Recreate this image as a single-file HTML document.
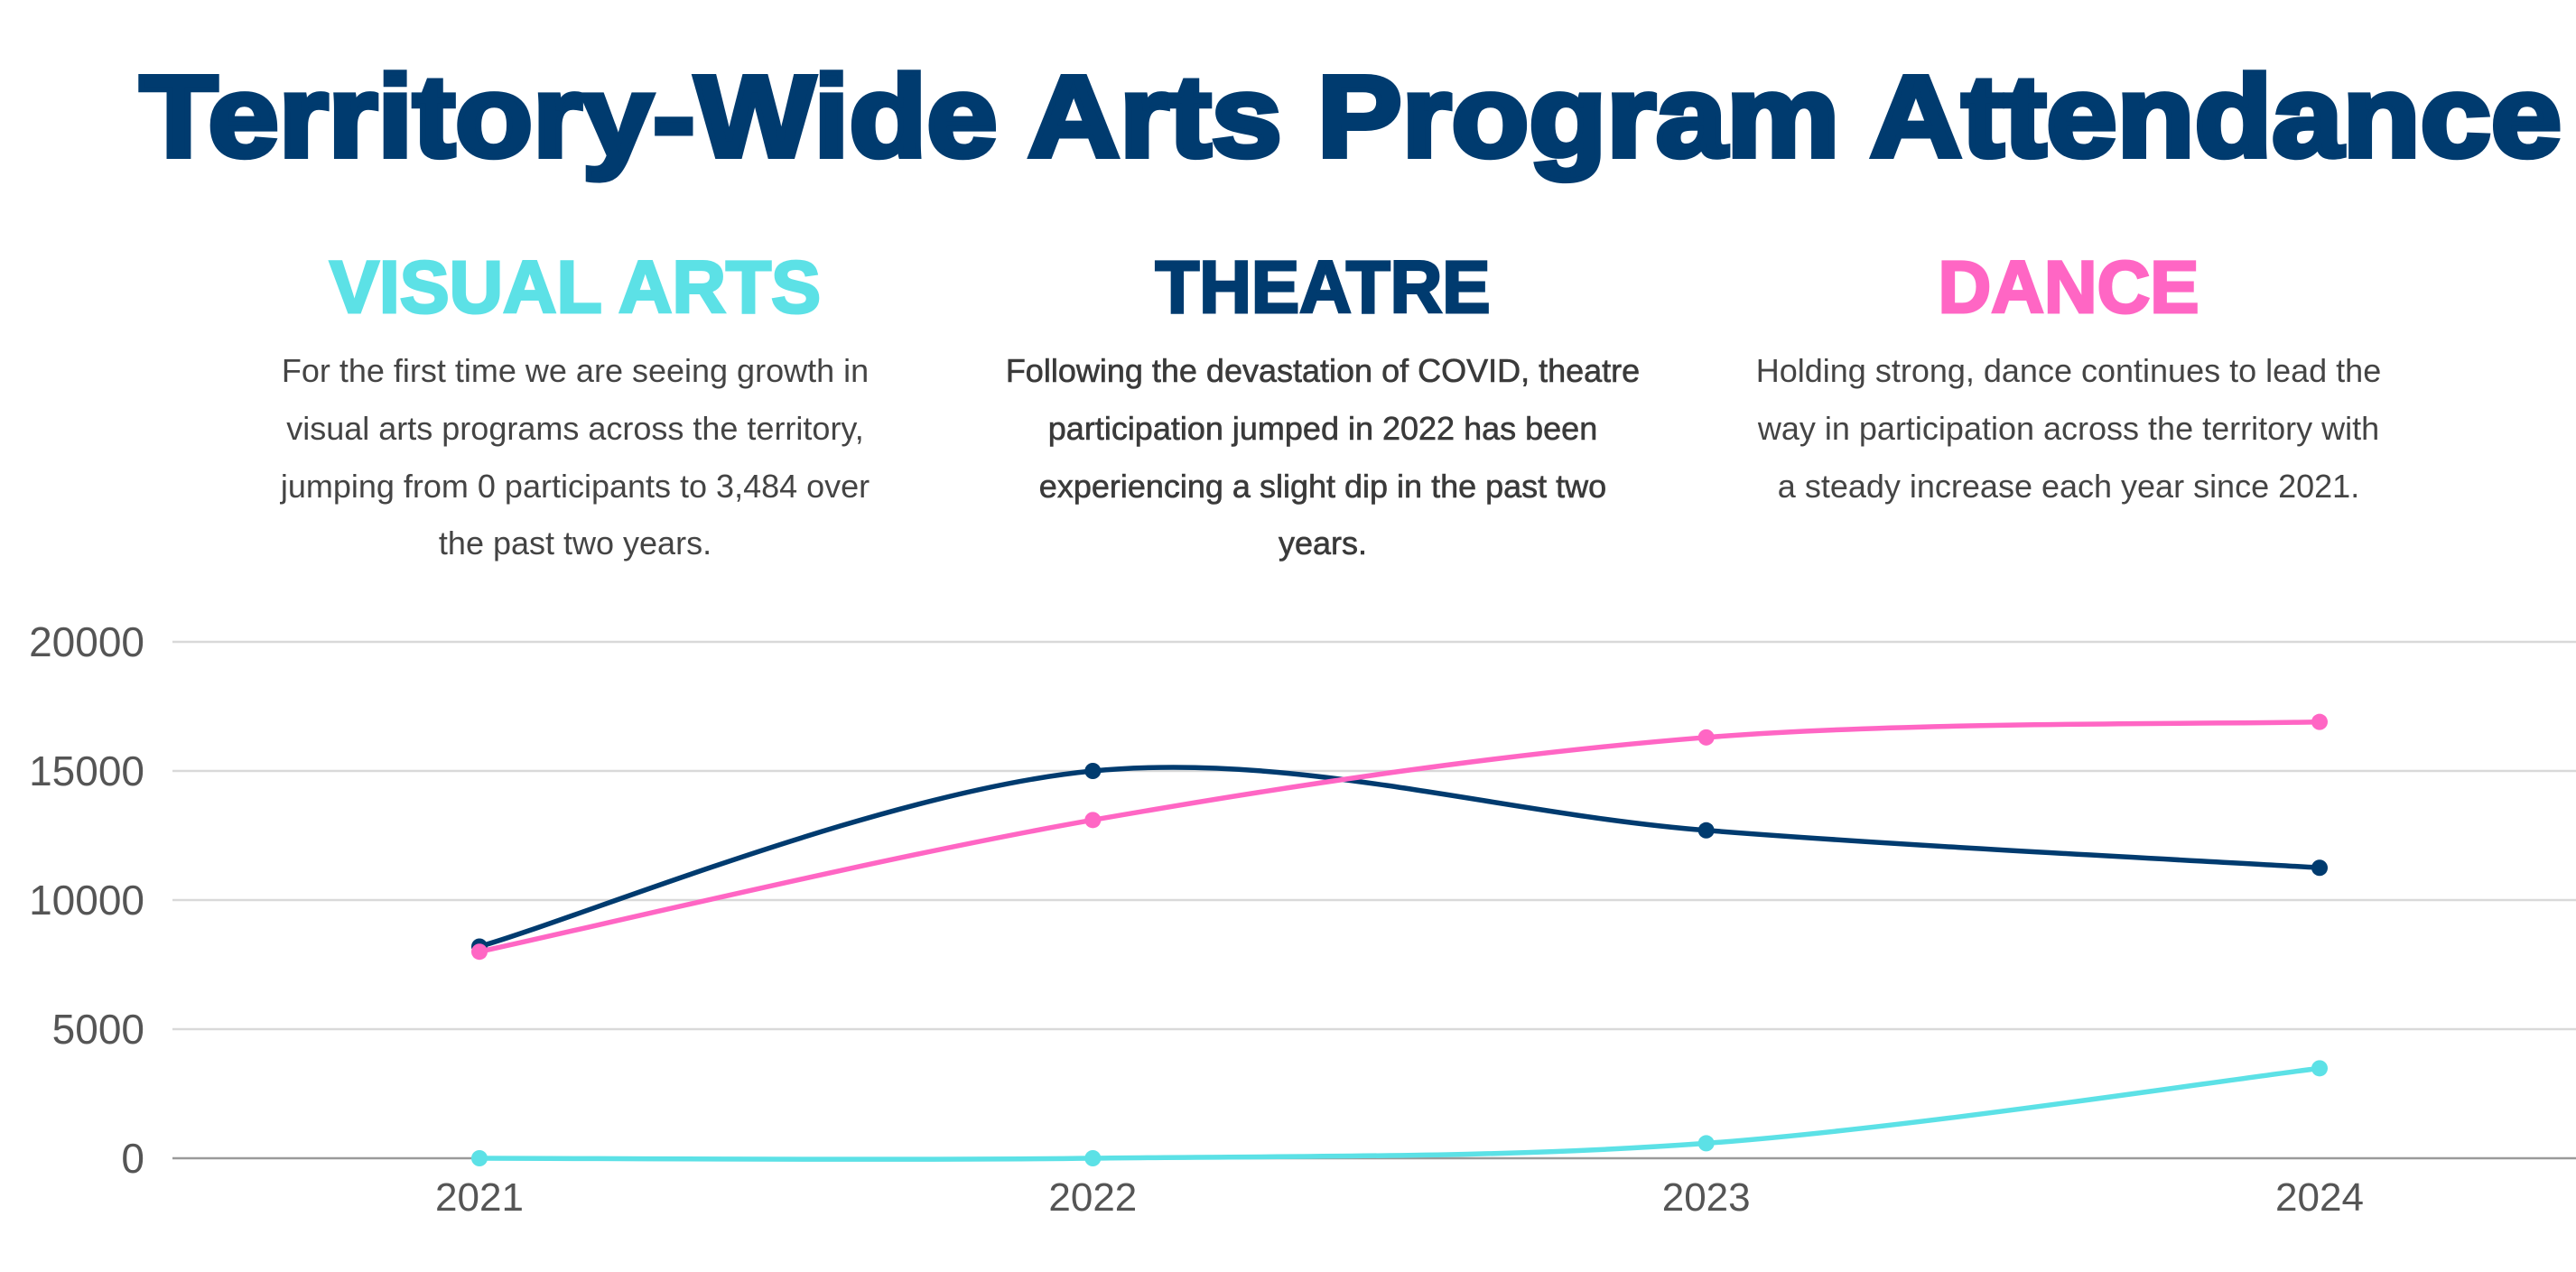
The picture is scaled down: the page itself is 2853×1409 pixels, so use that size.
<!DOCTYPE html>
<html><head><meta charset="utf-8"><style>
html,body{margin:0;padding:0;background:#fff;}
svg{display:block;}
</style></head><body>
<svg id="chart" width="2853" height="1409" viewBox="0 0 2853 1409" xmlns="http://www.w3.org/2000/svg">
<text x="155" y="173" font-family="Liberation Sans, sans-serif" font-weight="bold" font-size="128" fill="#003B6F" stroke="#003B6F" stroke-width="6" textLength="2682" lengthAdjust="spacingAndGlyphs">Territory-Wide Arts Program Attendance</text>

<text x="637" y="346" text-anchor="middle" font-family="Liberation Sans, sans-serif" font-weight="bold" font-size="82" fill="#5CE1E6" stroke="#5CE1E6" stroke-width="3" textLength="544" lengthAdjust="spacingAndGlyphs">VISUAL ARTS</text>
<text x="1465" y="346" text-anchor="middle" font-family="Liberation Sans, sans-serif" font-weight="bold" font-size="82" fill="#003B6F" stroke="#003B6F" stroke-width="3" textLength="371" lengthAdjust="spacingAndGlyphs">THEATRE</text>
<text x="2291" y="346" text-anchor="middle" font-family="Liberation Sans, sans-serif" font-weight="bold" font-size="82" fill="#FF66C4" stroke="#FF66C4" stroke-width="3" textLength="289" lengthAdjust="spacingAndGlyphs">DANCE</text>

<g font-family="Liberation Sans, sans-serif" font-size="36" fill="#444" text-anchor="middle">
<text x="637" y="423">For the first time we are seeing growth in</text>
<text x="637" y="487">visual arts programs across the territory,</text>
<text x="637" y="551">jumping from 0 participants to 3,484 over</text>
<text x="637" y="614">the past two years.</text>
</g>
<g font-family="Liberation Sans, sans-serif" font-size="36" fill="#3a3a3a" text-anchor="middle" stroke="#3a3a3a" stroke-width="0.6">
<text x="1465" y="423">Following the devastation of COVID, theatre</text>
<text x="1465" y="487">participation jumped in 2022 has been</text>
<text x="1465" y="551">experiencing a slight dip in the past two</text>
<text x="1465" y="614">years.</text>
</g>
<g font-family="Liberation Sans, sans-serif" font-size="36" fill="#444" text-anchor="middle">
<text x="2291" y="423">Holding strong, dance continues to lead the</text>
<text x="2291" y="487">way in participation across the territory with</text>
<text x="2291" y="551">a steady increase each year since 2021.</text>
</g>
<g id="plot"></g>
</svg>
<script>
const years = ["2021","2022","2023","2024"];
const theatre = [8200, 15000, 12700, 11250];
const dance = [8000, 13100, 16300, 16900];
const visualArts = [0, 0, 580, 3484];
const yTicks = [0, 5000, 10000, 15000, 20000];

const NS = "http://www.w3.org/2000/svg";
const plot = document.getElementById("plot");
const x0 = 531, x1 = 2569, yBase = 1283, yTop = 711, yMax = 20000;
function xs(i){ return x0 + (x1 - x0) * i / (years.length - 1); }
function ys(v){ return yBase - (yBase - yTop) * v / yMax; }
function mk(tag, attrs){ const e = document.createElementNS(NS, tag); for (const k in attrs) e.setAttribute(k, attrs[k]); plot.appendChild(e); return e; }

yTicks.forEach(t => {
  const g = mk("line", {x1:191, x2:2853, y1:ys(t), y2:ys(t), stroke: t===0 ? "#9a9a9a" : "#d9d9d9", "stroke-width": 2.5});
  
  
  const l = mk("text", {x:160, y:ys(t)+16, "text-anchor":"end", "font-family":"Liberation Sans, sans-serif", "font-size":46, fill:"#555"});
  l.textContent = t;
  
  
});
years.forEach((y, i) => {
  const l = mk("text", {x:xs(i), y:1341, "text-anchor":"middle", "font-family":"Liberation Sans, sans-serif", "font-size":44, fill:"#555"});
  l.textContent = y;
  
  
});

function drawSeries(vals, color, name){
  const p = vals.map((v,i) => [xs(i), ys(v)]);
  let d = "M" + p[0][0] + "," + p[0][1];
  for (let i = 0; i < p.length - 1; i++) {
    const a = p[i-1] || p[i], b = p[i], c = p[i+1], e = p[i+2] || c;
    const c1 = [b[0] + (c[0]-a[0])/6, b[1] + (c[1]-a[1])/6];
    const c2 = [c[0] - (e[0]-b[0])/6, c[1] - (e[1]-b[1])/6];
    d += " C" + c1 + " " + c2 + " " + c;
  }
  const path = mk("path", {d:d, fill:"none", stroke:color, "stroke-width":5.5, "stroke-linecap":"round"});
  
  
  p.forEach(pt => {
    const c = mk("circle", {cx:pt[0], cy:pt[1], r:9, fill:color});
    
    
  });
}
drawSeries(visualArts, "#5CE1E6", "visual-arts");
drawSeries(theatre, "#003B6F", "theatre");
drawSeries(dance, "#FF66C4", "dance");
</script>
</body></html>
